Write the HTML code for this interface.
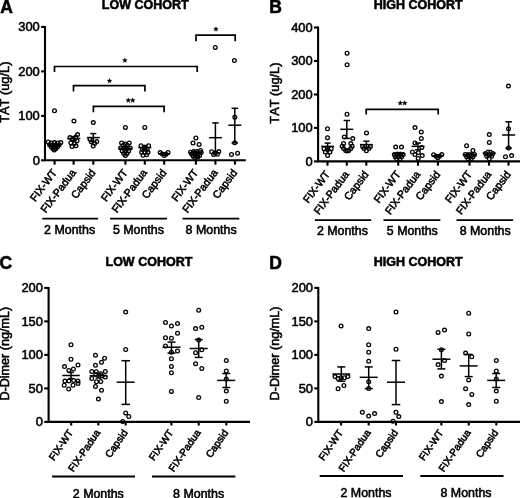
<!DOCTYPE html>
<html><head><meta charset="utf-8"><title>Figure</title>
<style>
html,body{margin:0;padding:0;background:#fff;width:520px;height:498px;overflow:hidden;}
#wrap{position:relative;width:520px;height:498px;overflow:hidden;background:#fff;}
svg{display:block;position:absolute;left:0;top:0;font-family:"Liberation Sans", sans-serif;font-kerning:none;filter:blur(0.35px);}
svg text{fill:#000;stroke:#000;stroke-width:0.55px;}
svg circle{fill:#fff;fill-opacity:0;stroke:#000;stroke-width:1.3;}
svg path{stroke:#000;fill:none;}
</style></head><body>
<div id="wrap">
<svg width="540" height="518" viewBox="0 0 540 518">
<rect x="-10" y="-10" width="560" height="538" fill="#fff"/>
<text x="0.3" y="12.5" font-size="17.5" text-anchor="start" font-weight="bold">A</text>
<text x="145.2" y="8.9" font-size="12.5" text-anchor="middle" font-weight="bold">LOW COHORT</text>
<text x="9.3" y="92.2" font-size="12.8" text-anchor="middle" transform="rotate(-90 9.3 92.2)">TAT (ug/L)</text>
<path d="M45.0 25.9V160.3H245.8" stroke-width="2.1" fill="none" stroke-linejoin="miter"/>
<path d="M41.1 160.3L45.0 160.3" stroke-width="2.1"/>
<text x="39.8" y="164.8" font-size="12.9" text-anchor="end">0</text>
<path d="M41.1 115.9L45.0 115.9" stroke-width="2.1"/>
<text x="39.8" y="120.3" font-size="12.9" text-anchor="end">100</text>
<path d="M41.1 71.4L45.0 71.4" stroke-width="2.1"/>
<text x="39.8" y="75.8" font-size="12.9" text-anchor="end">200</text>
<path d="M41.1 26.9L45.0 26.9" stroke-width="2.1"/>
<text x="39.8" y="31.3" font-size="12.9" text-anchor="end">300</text>
<path d="M54.6 160.3L54.6 164.7" stroke-width="2.1"/>
<path d="M73.6 160.3L73.6 164.7" stroke-width="2.1"/>
<path d="M93.3 160.3L93.3 164.7" stroke-width="2.1"/>
<path d="M125.4 160.3L125.4 164.7" stroke-width="2.1"/>
<path d="M144.8 160.3L144.8 164.7" stroke-width="2.1"/>
<path d="M164.2 160.3L164.2 164.7" stroke-width="2.1"/>
<path d="M195.9 160.3L195.9 164.7" stroke-width="2.1"/>
<path d="M215.4 160.3L215.4 164.7" stroke-width="2.1"/>
<path d="M234.9 160.3L234.9 164.7" stroke-width="2.1"/>
<text x="57.5" y="172.8" font-size="10.7" text-anchor="end" transform="rotate(-53 57.5 172.8)">FIX-WT</text>
<text x="76.5" y="172.8" font-size="10.7" text-anchor="end" transform="rotate(-53 76.5 172.8)">FIX-Padua</text>
<text x="96.2" y="172.8" font-size="10.7" text-anchor="end" transform="rotate(-53 96.2 172.8)">Capsid</text>
<text x="128.3" y="172.8" font-size="10.7" text-anchor="end" transform="rotate(-53 128.3 172.8)">FIX-WT</text>
<text x="147.7" y="172.8" font-size="10.7" text-anchor="end" transform="rotate(-53 147.7 172.8)">FIX-Padua</text>
<text x="167.1" y="172.8" font-size="10.7" text-anchor="end" transform="rotate(-53 167.1 172.8)">Capsid</text>
<text x="198.8" y="172.8" font-size="10.7" text-anchor="end" transform="rotate(-53 198.8 172.8)">FIX-WT</text>
<text x="218.3" y="172.8" font-size="10.7" text-anchor="end" transform="rotate(-53 218.3 172.8)">FIX-Padua</text>
<text x="237.8" y="172.8" font-size="10.7" text-anchor="end" transform="rotate(-53 237.8 172.8)">Capsid</text>
<path d="M42.3 218.7L98.1 218.7" stroke-width="1.8"/>
<text x="69.6" y="233.8" font-size="12.4" text-anchor="middle">2 Months</text>
<path d="M110.0 218.7L167.0 218.7" stroke-width="1.8"/>
<text x="138.4" y="233.8" font-size="12.4" text-anchor="middle">5 Months</text>
<path d="M182.5 218.7L239.3 218.7" stroke-width="1.8"/>
<text x="211.1" y="233.8" font-size="12.4" text-anchor="middle">8 Months</text>
<path d="M54.5 72.1V66.5H197.2V72.1" stroke-width="1.7" fill="none"/>
<polygon points="124.90,57.85 125.58,59.47 127.33,59.61 125.99,60.76 126.40,62.46 124.90,61.55 123.40,62.46 123.81,60.76 122.47,59.61 124.22,59.47" fill="#000" stroke="#000" stroke-width="0.3"/>
<path d="M73.5 91.4V85.6H144.9V91.4" stroke-width="1.7" fill="none"/>
<polygon points="109.50,78.40 110.18,80.02 111.93,80.16 110.59,81.31 111.00,83.01 109.50,82.10 108.00,83.01 108.41,81.31 107.07,80.16 108.82,80.02" fill="#000" stroke="#000" stroke-width="0.3"/>
<path d="M93.4 112.3V106.4H164.1V112.3" stroke-width="1.7" fill="none"/>
<polygon points="128.30,97.85 128.98,99.47 130.73,99.61 129.39,100.76 129.80,102.46 128.30,101.55 126.80,102.46 127.21,100.76 125.87,99.61 127.62,99.47" fill="#000" stroke="#000" stroke-width="0.3"/>
<polygon points="132.70,97.85 133.38,99.47 135.13,99.61 133.79,100.76 134.20,102.46 132.70,101.55 131.20,102.46 131.61,100.76 130.27,99.61 132.02,99.47" fill="#000" stroke="#000" stroke-width="0.3"/>
<path d="M196.0 41.2V35.1H235.2V41.2" stroke-width="1.7" fill="none"/>
<polygon points="215.95,26.61 216.63,28.23 218.38,28.37 217.04,29.52 217.45,31.22 215.95,30.31 214.45,31.22 214.86,29.52 213.52,28.37 215.27,28.23" fill="#000" stroke="#000" stroke-width="0.3"/>
<text x="269.3" y="12.5" font-size="17.5" text-anchor="start" font-weight="bold">B</text>
<text x="418.3" y="8.9" font-size="12.5" text-anchor="middle" font-weight="bold">HIGH COHORT</text>
<text x="278.8" y="93.1" font-size="12.8" text-anchor="middle" transform="rotate(-90 278.8 93.1)">TAT (ug/L)</text>
<path d="M318.1 26.5V161.4H535.0" stroke-width="2.1" fill="none" stroke-linejoin="miter"/>
<path d="M314.0 161.4L318.1 161.4" stroke-width="2.1"/>
<text x="312.7" y="165.8" font-size="12.9" text-anchor="end">0</text>
<path d="M314.0 127.9L318.1 127.9" stroke-width="2.1"/>
<text x="312.7" y="132.3" font-size="12.9" text-anchor="end">100</text>
<path d="M314.0 94.5L318.1 94.5" stroke-width="2.1"/>
<text x="312.7" y="98.9" font-size="12.9" text-anchor="end">200</text>
<path d="M314.0 61.0L318.1 61.0" stroke-width="2.1"/>
<text x="312.7" y="65.4" font-size="12.9" text-anchor="end">300</text>
<path d="M314.0 27.5L318.1 27.5" stroke-width="2.1"/>
<text x="312.7" y="31.9" font-size="12.9" text-anchor="end">400</text>
<path d="M327.5 161.4L327.5 165.7" stroke-width="2.1"/>
<path d="M346.8 161.4L346.8 165.7" stroke-width="2.1"/>
<path d="M366.3 161.4L366.3 165.7" stroke-width="2.1"/>
<path d="M398.2 161.4L398.2 165.7" stroke-width="2.1"/>
<path d="M418.0 161.4L418.0 165.7" stroke-width="2.1"/>
<path d="M437.9 161.4L437.9 165.7" stroke-width="2.1"/>
<path d="M469.5 161.4L469.5 165.7" stroke-width="2.1"/>
<path d="M489.0 161.4L489.0 165.7" stroke-width="2.1"/>
<path d="M508.5 161.4L508.5 165.7" stroke-width="2.1"/>
<text x="330.4" y="174.4" font-size="10.7" text-anchor="end" transform="rotate(-53 330.4 174.4)">FIX-WT</text>
<text x="349.7" y="174.4" font-size="10.7" text-anchor="end" transform="rotate(-53 349.7 174.4)">FIX-Padua</text>
<text x="369.2" y="174.4" font-size="10.7" text-anchor="end" transform="rotate(-53 369.2 174.4)">Capsid</text>
<text x="401.1" y="174.4" font-size="10.7" text-anchor="end" transform="rotate(-53 401.1 174.4)">FIX-WT</text>
<text x="420.9" y="174.4" font-size="10.7" text-anchor="end" transform="rotate(-53 420.9 174.4)">FIX-Padua</text>
<text x="440.8" y="174.4" font-size="10.7" text-anchor="end" transform="rotate(-53 440.8 174.4)">Capsid</text>
<text x="472.4" y="174.4" font-size="10.7" text-anchor="end" transform="rotate(-53 472.4 174.4)">FIX-WT</text>
<text x="491.9" y="174.4" font-size="10.7" text-anchor="end" transform="rotate(-53 491.9 174.4)">FIX-Padua</text>
<text x="511.4" y="174.4" font-size="10.7" text-anchor="end" transform="rotate(-53 511.4 174.4)">Capsid</text>
<path d="M314.9 220.2L371.2 220.2" stroke-width="1.8"/>
<text x="342.4" y="234.9" font-size="12.4" text-anchor="middle">2 Months</text>
<path d="M383.5 220.2L440.4 220.2" stroke-width="1.8"/>
<text x="412.3" y="234.9" font-size="12.4" text-anchor="middle">5 Months</text>
<path d="M456.5 220.2L513.1 220.2" stroke-width="1.8"/>
<text x="485.2" y="234.9" font-size="12.4" text-anchor="middle">8 Months</text>
<path d="M366.2 114.6V109.3H438.2V114.6" stroke-width="1.7" fill="none"/>
<polygon points="400.30,100.55 400.98,102.17 402.73,102.31 401.39,103.46 401.80,105.16 400.30,104.25 398.80,105.16 399.21,103.46 397.87,102.31 399.62,102.17" fill="#000" stroke="#000" stroke-width="0.3"/>
<polygon points="404.70,100.55 405.38,102.17 407.13,102.31 405.79,103.46 406.20,105.16 404.70,104.25 403.20,105.16 403.61,103.46 402.27,102.31 404.02,102.17" fill="#000" stroke="#000" stroke-width="0.3"/>
<text x="-0.4" y="269.2" font-size="17.5" text-anchor="start" font-weight="bold">C</text>
<text x="148.9" y="265.8" font-size="12.5" text-anchor="middle" font-weight="bold">LOW COHORT</text>
<text x="8.9" y="353.7" font-size="12.6" text-anchor="middle" transform="rotate(-90 8.9 353.7)">D-Dimer (ng/mL)</text>
<path d="M48.6 286.9V421.9H250.0" stroke-width="2.1" fill="none" stroke-linejoin="miter"/>
<path d="M44.2 421.9L48.6 421.9" stroke-width="2.1"/>
<text x="42.9" y="426.3" font-size="12.9" text-anchor="end">0</text>
<path d="M44.2 388.4L48.6 388.4" stroke-width="2.1"/>
<text x="42.9" y="392.8" font-size="12.9" text-anchor="end">50</text>
<path d="M44.2 354.9L48.6 354.9" stroke-width="2.1"/>
<text x="42.9" y="359.3" font-size="12.9" text-anchor="end">100</text>
<path d="M44.2 321.4L48.6 321.4" stroke-width="2.1"/>
<text x="42.9" y="325.8" font-size="12.9" text-anchor="end">150</text>
<path d="M44.2 287.9L48.6 287.9" stroke-width="2.1"/>
<text x="42.9" y="292.3" font-size="12.9" text-anchor="end">200</text>
<path d="M71.2 421.9L71.2 425.5" stroke-width="2.1"/>
<path d="M98.3 421.9L98.3 425.5" stroke-width="2.1"/>
<path d="M125.7 421.9L125.7 425.5" stroke-width="2.1"/>
<path d="M171.4 421.9L171.4 425.5" stroke-width="2.1"/>
<path d="M198.7 421.9L198.7 425.5" stroke-width="2.1"/>
<path d="M226.3 421.9L226.3 425.5" stroke-width="2.1"/>
<text x="73.6" y="432.7" font-size="10.1" text-anchor="end" transform="rotate(-55.5 73.6 432.7)">FIX-WT</text>
<text x="100.7" y="432.7" font-size="10.1" text-anchor="end" transform="rotate(-55.5 100.7 432.7)">FIX-Padua</text>
<text x="128.1" y="432.7" font-size="10.1" text-anchor="end" transform="rotate(-55.5 128.1 432.7)">Capsid</text>
<text x="173.8" y="432.7" font-size="10.1" text-anchor="end" transform="rotate(-55.5 173.8 432.7)">FIX-WT</text>
<text x="201.1" y="432.7" font-size="10.1" text-anchor="end" transform="rotate(-55.5 201.1 432.7)">FIX-Padua</text>
<text x="228.7" y="432.7" font-size="10.1" text-anchor="end" transform="rotate(-55.5 228.7 432.7)">Capsid</text>
<path d="M52.1 476.4L135.0 476.4" stroke-width="2.0"/>
<text x="98.3" y="497.7" font-size="12.4" text-anchor="middle">2 Months</text>
<path d="M152.0 476.4L235.3 476.4" stroke-width="2.0"/>
<text x="198.6" y="497.7" font-size="12.4" text-anchor="middle">8 Months</text>
<text x="269.3" y="269.0" font-size="17.5" text-anchor="start" font-weight="bold">D</text>
<text x="418.3" y="265.8" font-size="12.5" text-anchor="middle" font-weight="bold">HIGH COHORT</text>
<text x="278.5" y="353.5" font-size="12.6" text-anchor="middle" transform="rotate(-90 278.5 353.5)">D-Dimer (ng/mL)</text>
<path d="M318.3 286.9V421.9H535.0" stroke-width="2.1" fill="none" stroke-linejoin="miter"/>
<path d="M314.3 421.9L318.3 421.9" stroke-width="2.1"/>
<text x="313.0" y="426.3" font-size="12.9" text-anchor="end">0</text>
<path d="M314.3 388.4L318.3 388.4" stroke-width="2.1"/>
<text x="313.0" y="392.8" font-size="12.9" text-anchor="end">50</text>
<path d="M314.3 354.9L318.3 354.9" stroke-width="2.1"/>
<text x="313.0" y="359.3" font-size="12.9" text-anchor="end">100</text>
<path d="M314.3 321.4L318.3 321.4" stroke-width="2.1"/>
<text x="313.0" y="325.8" font-size="12.9" text-anchor="end">150</text>
<path d="M314.3 287.9L318.3 287.9" stroke-width="2.1"/>
<text x="313.0" y="292.3" font-size="12.9" text-anchor="end">200</text>
<path d="M341.1 421.9L341.1 425.5" stroke-width="2.1"/>
<path d="M368.7 421.9L368.7 425.5" stroke-width="2.1"/>
<path d="M396.0 421.9L396.0 425.5" stroke-width="2.1"/>
<path d="M441.4 421.9L441.4 425.5" stroke-width="2.1"/>
<path d="M468.7 421.9L468.7 425.5" stroke-width="2.1"/>
<path d="M496.3 421.9L496.3 425.5" stroke-width="2.1"/>
<text x="343.5" y="432.7" font-size="10.1" text-anchor="end" transform="rotate(-55.5 343.5 432.7)">FIX-WT</text>
<text x="371.1" y="432.7" font-size="10.1" text-anchor="end" transform="rotate(-55.5 371.1 432.7)">FIX-Padua</text>
<text x="398.4" y="432.7" font-size="10.1" text-anchor="end" transform="rotate(-55.5 398.4 432.7)">Capsid</text>
<text x="443.8" y="432.7" font-size="10.1" text-anchor="end" transform="rotate(-55.5 443.8 432.7)">FIX-WT</text>
<text x="471.1" y="432.7" font-size="10.1" text-anchor="end" transform="rotate(-55.5 471.1 432.7)">FIX-Padua</text>
<text x="498.7" y="432.7" font-size="10.1" text-anchor="end" transform="rotate(-55.5 498.7 432.7)">Capsid</text>
<path d="M319.7 476.0L403.0 476.0" stroke-width="2.0"/>
<text x="366.0" y="497.3" font-size="12.4" text-anchor="middle">2 Months</text>
<path d="M420.3 476.0L503.5 476.0" stroke-width="2.0"/>
<text x="466.0" y="497.3" font-size="12.4" text-anchor="middle">8 Months</text>
<circle cx="54.5" cy="110.8" r="1.87"/>
<circle cx="48.3" cy="142.0" r="1.87"/>
<circle cx="51.2" cy="143.0" r="1.87"/>
<circle cx="54.4" cy="142.6" r="1.87"/>
<circle cx="57.6" cy="143.0" r="1.87"/>
<circle cx="60.8" cy="142.6" r="1.87"/>
<circle cx="49.6" cy="144.8" r="1.87"/>
<circle cx="52.8" cy="145.2" r="1.87"/>
<circle cx="56.0" cy="145.2" r="1.87"/>
<circle cx="59.2" cy="144.8" r="1.87"/>
<circle cx="51.2" cy="146.8" r="1.87"/>
<circle cx="54.4" cy="147.2" r="1.87"/>
<circle cx="57.6" cy="146.8" r="1.87"/>
<circle cx="52.8" cy="148.6" r="1.87"/>
<circle cx="56.0" cy="148.6" r="1.87"/>
<circle cx="54.3" cy="150.0" r="1.87"/>
<path d="M48.0 144.8L61.0 144.8" stroke-width="1.5"/>
<path d="M54.5 143.6L54.5 146.0" stroke-width="1.5"/>
<path d="M51.5 143.6L57.5 143.6" stroke-width="1.5"/>
<path d="M51.5 146.0L57.5 146.0" stroke-width="1.5"/>
<circle cx="73.9" cy="120.9" r="1.87"/>
<circle cx="77.6" cy="134.6" r="1.87"/>
<circle cx="75.8" cy="137.0" r="1.87"/>
<circle cx="70.0" cy="137.6" r="1.87"/>
<circle cx="72.3" cy="139.5" r="1.87"/>
<circle cx="77.0" cy="140.8" r="1.87"/>
<circle cx="70.8" cy="142.8" r="1.87"/>
<circle cx="74.6" cy="143.6" r="1.87"/>
<circle cx="76.0" cy="145.8" r="1.87"/>
<circle cx="72.0" cy="146.6" r="1.87"/>
<path d="M67.3 138.5L80.3 138.5" stroke-width="1.5"/>
<path d="M73.8 136.6L73.8 140.4" stroke-width="1.5"/>
<path d="M70.8 136.6L76.8 136.6" stroke-width="1.5"/>
<path d="M70.8 140.4L76.8 140.4" stroke-width="1.5"/>
<circle cx="93.3" cy="122.6" r="1.87"/>
<circle cx="90.0" cy="139.2" r="1.87"/>
<circle cx="96.8" cy="141.6" r="1.87"/>
<circle cx="91.3" cy="141.8" r="1.87"/>
<circle cx="94.6" cy="143.6" r="1.87"/>
<circle cx="93.2" cy="146.0" r="1.87"/>
<path d="M86.8 137.6L99.8 137.6" stroke-width="1.5"/>
<path d="M93.3 133.6L93.3 141.6" stroke-width="1.5"/>
<path d="M90.3 133.6L96.3 133.6" stroke-width="1.5"/>
<path d="M90.3 141.6L96.3 141.6" stroke-width="1.5"/>
<circle cx="125.4" cy="127.4" r="1.87"/>
<circle cx="121.6" cy="143.0" r="1.87"/>
<circle cx="129.2" cy="143.0" r="1.87"/>
<circle cx="123.4" cy="145.3" r="1.87"/>
<circle cx="127.4" cy="145.3" r="1.87"/>
<circle cx="125.4" cy="144.0" r="1.87"/>
<circle cx="120.6" cy="148.0" r="1.87"/>
<circle cx="123.8" cy="148.4" r="1.87"/>
<circle cx="127.0" cy="148.4" r="1.87"/>
<circle cx="130.2" cy="148.0" r="1.87"/>
<circle cx="122.2" cy="151.0" r="1.87"/>
<circle cx="125.4" cy="151.4" r="1.87"/>
<circle cx="128.6" cy="151.0" r="1.87"/>
<circle cx="123.8" cy="153.6" r="1.87"/>
<circle cx="127.0" cy="153.6" r="1.87"/>
<circle cx="125.4" cy="155.4" r="1.87"/>
<path d="M118.9 148.3L131.9 148.3" stroke-width="1.5"/>
<path d="M125.4 146.9L125.4 149.7" stroke-width="1.5"/>
<path d="M122.4 146.9L128.4 146.9" stroke-width="1.5"/>
<path d="M122.4 149.7L128.4 149.7" stroke-width="1.5"/>
<circle cx="144.8" cy="127.4" r="1.87"/>
<circle cx="141.0" cy="145.8" r="1.87"/>
<circle cx="148.6" cy="145.8" r="1.87"/>
<circle cx="144.8" cy="147.2" r="1.87"/>
<circle cx="142.4" cy="149.4" r="1.87"/>
<circle cx="147.2" cy="149.4" r="1.87"/>
<circle cx="141.6" cy="152.2" r="1.87"/>
<circle cx="148.0" cy="152.2" r="1.87"/>
<circle cx="144.8" cy="152.6" r="1.87"/>
<circle cx="143.0" cy="155.2" r="1.87"/>
<circle cx="146.6" cy="154.8" r="1.87"/>
<path d="M138.3 147.6L151.3 147.6" stroke-width="1.5"/>
<path d="M144.8 145.6L144.8 149.6" stroke-width="1.5"/>
<path d="M141.8 145.6L147.8 145.6" stroke-width="1.5"/>
<path d="M141.8 149.6L147.8 149.6" stroke-width="1.5"/>
<circle cx="160.2" cy="152.6" r="1.87"/>
<circle cx="168.0" cy="152.4" r="1.87"/>
<circle cx="162.4" cy="154.0" r="1.87"/>
<circle cx="166.0" cy="154.2" r="1.87"/>
<circle cx="164.2" cy="155.6" r="1.87"/>
<path d="M158.7 153.8L169.7 153.8" stroke-width="1.5"/>
<path d="M164.2 153.0L164.2 154.6" stroke-width="1.5"/>
<path d="M161.7 153.0L166.7 153.0" stroke-width="1.5"/>
<path d="M161.7 154.6L166.7 154.6" stroke-width="1.5"/>
<circle cx="195.9" cy="138.0" r="1.87"/>
<circle cx="193.0" cy="143.0" r="1.87"/>
<circle cx="199.1" cy="144.4" r="1.87"/>
<circle cx="200.5" cy="150.5" r="1.87"/>
<circle cx="190.6" cy="152.2" r="1.87"/>
<circle cx="193.8" cy="151.6" r="1.87"/>
<circle cx="197.0" cy="151.6" r="1.87"/>
<circle cx="191.6" cy="154.0" r="1.87"/>
<circle cx="195.0" cy="154.0" r="1.87"/>
<circle cx="198.4" cy="153.6" r="1.87"/>
<circle cx="201.2" cy="152.6" r="1.87"/>
<circle cx="193.0" cy="156.0" r="1.87"/>
<circle cx="196.4" cy="156.0" r="1.87"/>
<circle cx="199.6" cy="155.4" r="1.87"/>
<circle cx="194.8" cy="157.4" r="1.87"/>
<circle cx="197.8" cy="157.0" r="1.87"/>
<path d="M189.4 152.8L202.4 152.8" stroke-width="1.5"/>
<path d="M195.9 151.4L195.9 154.2" stroke-width="1.5"/>
<path d="M192.9 151.4L198.9 151.4" stroke-width="1.5"/>
<path d="M192.9 154.2L198.9 154.2" stroke-width="1.5"/>
<circle cx="215.3" cy="47.4" r="1.87"/>
<circle cx="211.6" cy="151.8" r="1.87"/>
<circle cx="218.8" cy="151.6" r="1.87"/>
<circle cx="215.4" cy="153.0" r="1.87"/>
<circle cx="213.6" cy="154.4" r="1.87"/>
<circle cx="217.4" cy="154.2" r="1.87"/>
<path d="M208.9 137.7L221.9 137.7" stroke-width="1.5"/>
<path d="M215.4 122.9L215.4 152.6" stroke-width="1.5"/>
<path d="M212.2 122.9L218.7 122.9" stroke-width="1.5"/>
<path d="M212.2 152.6L218.7 152.6" stroke-width="1.5"/>
<circle cx="234.4" cy="60.5" r="1.87"/>
<circle cx="234.8" cy="117.2" r="1.87"/>
<circle cx="234.7" cy="142.7" r="1.87"/>
<circle cx="231.5" cy="154.5" r="1.87"/>
<circle cx="237.6" cy="153.2" r="1.87"/>
<path d="M228.3 125.2L241.3 125.2" stroke-width="1.5"/>
<path d="M234.8 108.3L234.8 142.9" stroke-width="1.5"/>
<path d="M231.5 108.3L238.1 108.3" stroke-width="1.5"/>
<path d="M231.5 142.9L238.1 142.9" stroke-width="1.5"/>
<circle cx="327.5" cy="128.7" r="1.87"/>
<circle cx="327.5" cy="137.7" r="1.87"/>
<circle cx="324.0" cy="148.8" r="1.87"/>
<circle cx="327.6" cy="149.5" r="1.87"/>
<circle cx="331.2" cy="148.8" r="1.87"/>
<circle cx="325.3" cy="152.1" r="1.87"/>
<circle cx="329.9" cy="152.1" r="1.87"/>
<circle cx="327.6" cy="155.5" r="1.87"/>
<path d="M321.1 146.4L334.1 146.4" stroke-width="1.5"/>
<path d="M327.6 143.1L327.6 149.8" stroke-width="1.5"/>
<path d="M324.6 143.1L330.6 143.1" stroke-width="1.5"/>
<path d="M324.6 149.8L330.6 149.8" stroke-width="1.5"/>
<circle cx="347.1" cy="53.2" r="1.87"/>
<circle cx="347.1" cy="64.7" r="1.87"/>
<circle cx="347.0" cy="114.2" r="1.87"/>
<circle cx="344.3" cy="137.0" r="1.87"/>
<circle cx="352.8" cy="138.6" r="1.87"/>
<circle cx="343.6" cy="143.4" r="1.87"/>
<circle cx="350.8" cy="143.6" r="1.87"/>
<circle cx="342.2" cy="146.2" r="1.87"/>
<circle cx="352.2" cy="146.2" r="1.87"/>
<circle cx="343.6" cy="148.6" r="1.87"/>
<circle cx="350.8" cy="148.6" r="1.87"/>
<circle cx="345.6" cy="150.4" r="1.87"/>
<circle cx="348.8" cy="150.4" r="1.87"/>
<circle cx="347.2" cy="151.0" r="1.87"/>
<path d="M340.3 129.3L353.3 129.3" stroke-width="1.5"/>
<path d="M346.8 120.5L346.8 138.4" stroke-width="1.5"/>
<path d="M343.6 120.5L350.1 120.5" stroke-width="1.5"/>
<path d="M343.6 138.4L350.1 138.4" stroke-width="1.5"/>
<circle cx="366.5" cy="133.0" r="1.87"/>
<circle cx="362.6" cy="146.4" r="1.87"/>
<circle cx="370.4" cy="146.4" r="1.87"/>
<circle cx="364.0" cy="148.4" r="1.87"/>
<circle cx="369.0" cy="148.4" r="1.87"/>
<circle cx="366.4" cy="150.8" r="1.87"/>
<path d="M359.9 144.6L372.9 144.6" stroke-width="1.5"/>
<path d="M366.4 141.2L366.4 147.8" stroke-width="1.5"/>
<path d="M363.4 141.2L369.4 141.2" stroke-width="1.5"/>
<path d="M363.4 147.8L369.4 147.8" stroke-width="1.5"/>
<circle cx="395.7" cy="147.1" r="1.87"/>
<circle cx="401.5" cy="147.1" r="1.87"/>
<circle cx="394.4" cy="154.6" r="1.87"/>
<circle cx="397.4" cy="154.2" r="1.87"/>
<circle cx="400.6" cy="154.2" r="1.87"/>
<circle cx="403.2" cy="154.6" r="1.87"/>
<circle cx="395.2" cy="156.8" r="1.87"/>
<circle cx="398.4" cy="157.0" r="1.87"/>
<circle cx="401.6" cy="156.8" r="1.87"/>
<circle cx="396.6" cy="158.8" r="1.87"/>
<circle cx="400.0" cy="158.8" r="1.87"/>
<path d="M391.9 153.8L404.9 153.8" stroke-width="1.5"/>
<path d="M398.4 152.6L398.4 155.0" stroke-width="1.5"/>
<path d="M395.4 152.6L401.4 152.6" stroke-width="1.5"/>
<path d="M395.4 155.0L401.4 155.0" stroke-width="1.5"/>
<circle cx="415.0" cy="127.6" r="1.87"/>
<circle cx="421.3" cy="132.0" r="1.87"/>
<circle cx="421.3" cy="138.4" r="1.87"/>
<circle cx="415.0" cy="143.0" r="1.87"/>
<circle cx="421.8" cy="147.4" r="1.87"/>
<circle cx="412.4" cy="152.0" r="1.87"/>
<circle cx="418.4" cy="152.6" r="1.87"/>
<circle cx="415.0" cy="154.6" r="1.87"/>
<circle cx="422.2" cy="155.6" r="1.87"/>
<circle cx="418.2" cy="158.4" r="1.87"/>
<path d="M411.5 146.4L424.5 146.4" stroke-width="1.5"/>
<path d="M418.0 143.0L418.0 149.8" stroke-width="1.5"/>
<path d="M415.0 143.0L421.0 143.0" stroke-width="1.5"/>
<path d="M415.0 149.8L421.0 149.8" stroke-width="1.5"/>
<circle cx="433.6" cy="154.8" r="1.87"/>
<circle cx="441.8" cy="154.6" r="1.87"/>
<circle cx="436.2" cy="156.2" r="1.87"/>
<circle cx="439.6" cy="156.2" r="1.87"/>
<circle cx="437.8" cy="157.8" r="1.87"/>
<path d="M432.4 155.8L443.4 155.8" stroke-width="1.5"/>
<path d="M437.9 155.0L437.9 156.6" stroke-width="1.5"/>
<path d="M435.4 155.0L440.4 155.0" stroke-width="1.5"/>
<path d="M435.4 156.6L440.4 156.6" stroke-width="1.5"/>
<circle cx="466.6" cy="145.8" r="1.87"/>
<circle cx="472.9" cy="150.5" r="1.87"/>
<circle cx="465.2" cy="154.4" r="1.87"/>
<circle cx="468.4" cy="154.8" r="1.87"/>
<circle cx="471.6" cy="154.8" r="1.87"/>
<circle cx="474.6" cy="154.4" r="1.87"/>
<circle cx="466.6" cy="156.8" r="1.87"/>
<circle cx="469.8" cy="157.2" r="1.87"/>
<circle cx="473.0" cy="156.8" r="1.87"/>
<circle cx="468.2" cy="159.0" r="1.87"/>
<circle cx="471.2" cy="159.0" r="1.87"/>
<path d="M463.1 154.5L476.1 154.5" stroke-width="1.5"/>
<path d="M469.6 153.2L469.6 155.8" stroke-width="1.5"/>
<path d="M466.6 153.2L472.6 153.2" stroke-width="1.5"/>
<path d="M466.6 155.8L472.6 155.8" stroke-width="1.5"/>
<circle cx="489.3" cy="134.6" r="1.87"/>
<circle cx="489.3" cy="142.4" r="1.87"/>
<circle cx="485.6" cy="153.6" r="1.87"/>
<circle cx="492.8" cy="153.6" r="1.87"/>
<circle cx="486.8" cy="156.2" r="1.87"/>
<circle cx="491.6" cy="156.2" r="1.87"/>
<circle cx="489.2" cy="155.0" r="1.87"/>
<circle cx="489.2" cy="158.8" r="1.87"/>
<path d="M482.7 153.2L495.7 153.2" stroke-width="1.5"/>
<path d="M489.2 150.5L489.2 155.9" stroke-width="1.5"/>
<path d="M486.2 150.5L492.2 150.5" stroke-width="1.5"/>
<path d="M486.2 155.9L492.2 155.9" stroke-width="1.5"/>
<circle cx="508.4" cy="86.1" r="1.87"/>
<circle cx="508.5" cy="128.7" r="1.87"/>
<circle cx="508.5" cy="148.0" r="1.87"/>
<circle cx="505.5" cy="156.8" r="1.87"/>
<circle cx="511.6" cy="155.6" r="1.87"/>
<path d="M502.1 135.0L515.1 135.0" stroke-width="1.5"/>
<path d="M508.6 121.8L508.6 148.2" stroke-width="1.5"/>
<path d="M505.3 121.8L511.9 121.8" stroke-width="1.5"/>
<path d="M505.3 148.2L511.9 148.2" stroke-width="1.5"/>
<circle cx="71.0" cy="344.8" r="1.87"/>
<circle cx="71.0" cy="359.3" r="1.87"/>
<circle cx="78.0" cy="365.0" r="1.87"/>
<circle cx="64.5" cy="366.6" r="1.87"/>
<circle cx="73.4" cy="369.0" r="1.87"/>
<circle cx="68.9" cy="370.4" r="1.87"/>
<circle cx="64.9" cy="381.1" r="1.87"/>
<circle cx="68.9" cy="381.1" r="1.87"/>
<circle cx="73.6" cy="380.5" r="1.87"/>
<circle cx="78.0" cy="381.1" r="1.87"/>
<circle cx="78.0" cy="383.4" r="1.87"/>
<circle cx="64.2" cy="385.2" r="1.87"/>
<circle cx="73.0" cy="385.2" r="1.87"/>
<circle cx="68.7" cy="389.0" r="1.87"/>
<path d="M62.2 375.5L79.8 375.5" stroke-width="1.5"/>
<path d="M71.0 372.4L71.0 378.6" stroke-width="1.5"/>
<path d="M68.2 372.4L73.8 372.4" stroke-width="1.5"/>
<path d="M68.2 378.6L73.8 378.6" stroke-width="1.5"/>
<circle cx="95.5" cy="355.3" r="1.87"/>
<circle cx="104.6" cy="358.3" r="1.87"/>
<circle cx="101.5" cy="362.3" r="1.87"/>
<circle cx="95.5" cy="365.3" r="1.87"/>
<circle cx="91.8" cy="371.5" r="1.87"/>
<circle cx="96.3" cy="371.7" r="1.87"/>
<circle cx="105.3" cy="371.5" r="1.87"/>
<circle cx="100.6" cy="373.7" r="1.87"/>
<circle cx="91.8" cy="378.5" r="1.87"/>
<circle cx="105.3" cy="377.1" r="1.87"/>
<circle cx="95.8" cy="374.6" r="1.87"/>
<circle cx="101.9" cy="376.0" r="1.87"/>
<circle cx="96.5" cy="381.8" r="1.87"/>
<circle cx="100.8" cy="381.5" r="1.87"/>
<circle cx="95.5" cy="386.5" r="1.87"/>
<circle cx="101.5" cy="390.3" r="1.87"/>
<circle cx="98.4" cy="399.1" r="1.87"/>
<path d="M89.7 375.8L107.2 375.8" stroke-width="1.5"/>
<path d="M98.4 373.6L98.4 378.0" stroke-width="1.5"/>
<path d="M95.7 373.6L101.2 373.6" stroke-width="1.5"/>
<path d="M95.7 378.0L101.2 378.0" stroke-width="1.5"/>
<circle cx="125.7" cy="312.1" r="1.87"/>
<circle cx="125.7" cy="349.5" r="1.87"/>
<circle cx="125.7" cy="412.9" r="1.87"/>
<circle cx="128.8" cy="416.5" r="1.87"/>
<circle cx="122.7" cy="421.4" r="1.87"/>
<path d="M116.7 382.2L134.7 382.2" stroke-width="1.5"/>
<path d="M125.7 360.7L125.7 404.4" stroke-width="1.5"/>
<path d="M121.4 360.7L130.0 360.7" stroke-width="1.5"/>
<path d="M121.4 404.4L130.0 404.4" stroke-width="1.5"/>
<circle cx="165.5" cy="322.5" r="1.87"/>
<circle cx="171.4" cy="326.0" r="1.87"/>
<circle cx="177.5" cy="323.5" r="1.87"/>
<circle cx="177.5" cy="333.2" r="1.87"/>
<circle cx="165.5" cy="337.8" r="1.87"/>
<circle cx="171.4" cy="338.3" r="1.87"/>
<circle cx="165.5" cy="346.0" r="1.87"/>
<circle cx="171.4" cy="352.3" r="1.87"/>
<circle cx="177.5" cy="351.0" r="1.87"/>
<circle cx="171.4" cy="358.7" r="1.87"/>
<circle cx="171.4" cy="366.4" r="1.87"/>
<circle cx="171.4" cy="372.7" r="1.87"/>
<circle cx="171.4" cy="391.4" r="1.87"/>
<path d="M162.5 347.2L180.5 347.2" stroke-width="1.5"/>
<path d="M171.5 342.1L171.5 353.1" stroke-width="1.5"/>
<path d="M167.5 342.1L175.5 342.1" stroke-width="1.5"/>
<path d="M167.5 353.1L175.5 353.1" stroke-width="1.5"/>
<circle cx="198.7" cy="310.2" r="1.87"/>
<circle cx="195.6" cy="328.6" r="1.87"/>
<circle cx="201.8" cy="327.3" r="1.87"/>
<circle cx="198.7" cy="340.1" r="1.87"/>
<circle cx="195.6" cy="352.8" r="1.87"/>
<circle cx="201.8" cy="349.8" r="1.87"/>
<circle cx="195.6" cy="363.8" r="1.87"/>
<circle cx="201.8" cy="368.4" r="1.87"/>
<circle cx="198.7" cy="397.5" r="1.87"/>
<path d="M189.7 348.5L207.7 348.5" stroke-width="1.5"/>
<path d="M198.7 339.6L198.7 357.4" stroke-width="1.5"/>
<path d="M194.7 339.6L202.7 339.6" stroke-width="1.5"/>
<path d="M194.7 357.4L202.7 357.4" stroke-width="1.5"/>
<circle cx="226.3" cy="360.5" r="1.87"/>
<circle cx="226.3" cy="371.0" r="1.87"/>
<circle cx="226.3" cy="379.1" r="1.87"/>
<circle cx="226.3" cy="391.1" r="1.87"/>
<circle cx="226.3" cy="401.3" r="1.87"/>
<path d="M217.2 380.4L235.2 380.4" stroke-width="1.5"/>
<path d="M226.2 373.5L226.2 387.5" stroke-width="1.5"/>
<path d="M222.2 373.5L230.2 373.5" stroke-width="1.5"/>
<path d="M222.2 387.5L230.2 387.5" stroke-width="1.5"/>
<circle cx="341.1" cy="326.0" r="1.87"/>
<circle cx="335.0" cy="376.6" r="1.87"/>
<circle cx="338.0" cy="378.6" r="1.87"/>
<circle cx="341.1" cy="377.8" r="1.87"/>
<circle cx="344.5" cy="377.8" r="1.87"/>
<circle cx="347.8" cy="376.6" r="1.87"/>
<circle cx="343.9" cy="385.5" r="1.87"/>
<circle cx="338.1" cy="388.8" r="1.87"/>
<path d="M332.3 374.0L350.3 374.0" stroke-width="1.5"/>
<path d="M341.3 366.9L341.3 381.2" stroke-width="1.5"/>
<path d="M337.3 366.9L345.3 366.9" stroke-width="1.5"/>
<path d="M337.3 381.2L345.3 381.2" stroke-width="1.5"/>
<circle cx="368.7" cy="328.6" r="1.87"/>
<circle cx="368.7" cy="344.7" r="1.87"/>
<circle cx="368.7" cy="352.3" r="1.87"/>
<circle cx="368.7" cy="361.3" r="1.87"/>
<circle cx="368.7" cy="381.7" r="1.87"/>
<circle cx="368.7" cy="388.6" r="1.87"/>
<circle cx="362.3" cy="412.3" r="1.87"/>
<circle cx="368.7" cy="416.1" r="1.87"/>
<circle cx="374.6" cy="413.6" r="1.87"/>
<path d="M359.7 377.3L377.7 377.3" stroke-width="1.5"/>
<path d="M368.7 366.9L368.7 388.6" stroke-width="1.5"/>
<path d="M364.7 366.9L372.7 366.9" stroke-width="1.5"/>
<path d="M364.7 388.6L372.7 388.6" stroke-width="1.5"/>
<circle cx="396.0" cy="312.0" r="1.87"/>
<circle cx="396.0" cy="349.3" r="1.87"/>
<circle cx="396.0" cy="412.3" r="1.87"/>
<circle cx="398.8" cy="416.6" r="1.87"/>
<circle cx="393.0" cy="421.2" r="1.87"/>
<path d="M387.0 382.2L405.0 382.2" stroke-width="1.5"/>
<path d="M396.0 360.5L396.0 404.6" stroke-width="1.5"/>
<path d="M391.7 360.5L400.3 360.5" stroke-width="1.5"/>
<path d="M391.7 404.6L400.3 404.6" stroke-width="1.5"/>
<circle cx="438.1" cy="332.4" r="1.87"/>
<circle cx="444.5" cy="330.1" r="1.87"/>
<circle cx="441.4" cy="349.8" r="1.87"/>
<circle cx="444.5" cy="360.5" r="1.87"/>
<circle cx="438.1" cy="364.6" r="1.87"/>
<circle cx="441.4" cy="376.1" r="1.87"/>
<circle cx="441.4" cy="401.6" r="1.87"/>
<path d="M432.4 359.2L450.4 359.2" stroke-width="1.5"/>
<path d="M441.4 349.3L441.4 368.9" stroke-width="1.5"/>
<path d="M437.4 349.3L445.4 349.3" stroke-width="1.5"/>
<path d="M437.4 368.9L445.4 368.9" stroke-width="1.5"/>
<circle cx="468.7" cy="313.3" r="1.87"/>
<circle cx="468.7" cy="334.0" r="1.87"/>
<circle cx="465.6" cy="353.1" r="1.87"/>
<circle cx="471.8" cy="356.7" r="1.87"/>
<circle cx="468.7" cy="379.9" r="1.87"/>
<circle cx="465.6" cy="388.8" r="1.87"/>
<circle cx="471.8" cy="394.4" r="1.87"/>
<circle cx="468.7" cy="404.6" r="1.87"/>
<path d="M459.7 365.9L477.7 365.9" stroke-width="1.5"/>
<path d="M468.7 354.4L468.7 376.6" stroke-width="1.5"/>
<path d="M464.7 354.4L472.7 354.4" stroke-width="1.5"/>
<path d="M464.7 376.6L472.7 376.6" stroke-width="1.5"/>
<circle cx="496.3" cy="360.5" r="1.87"/>
<circle cx="496.3" cy="371.0" r="1.87"/>
<circle cx="496.3" cy="379.1" r="1.87"/>
<circle cx="496.3" cy="391.1" r="1.87"/>
<circle cx="496.3" cy="401.3" r="1.87"/>
<path d="M487.2 380.4L505.2 380.4" stroke-width="1.5"/>
<path d="M496.2 373.5L496.2 387.5" stroke-width="1.5"/>
<path d="M492.2 373.5L500.2 373.5" stroke-width="1.5"/>
<path d="M492.2 387.5L500.2 387.5" stroke-width="1.5"/>
</svg>
</div>
</body></html>
